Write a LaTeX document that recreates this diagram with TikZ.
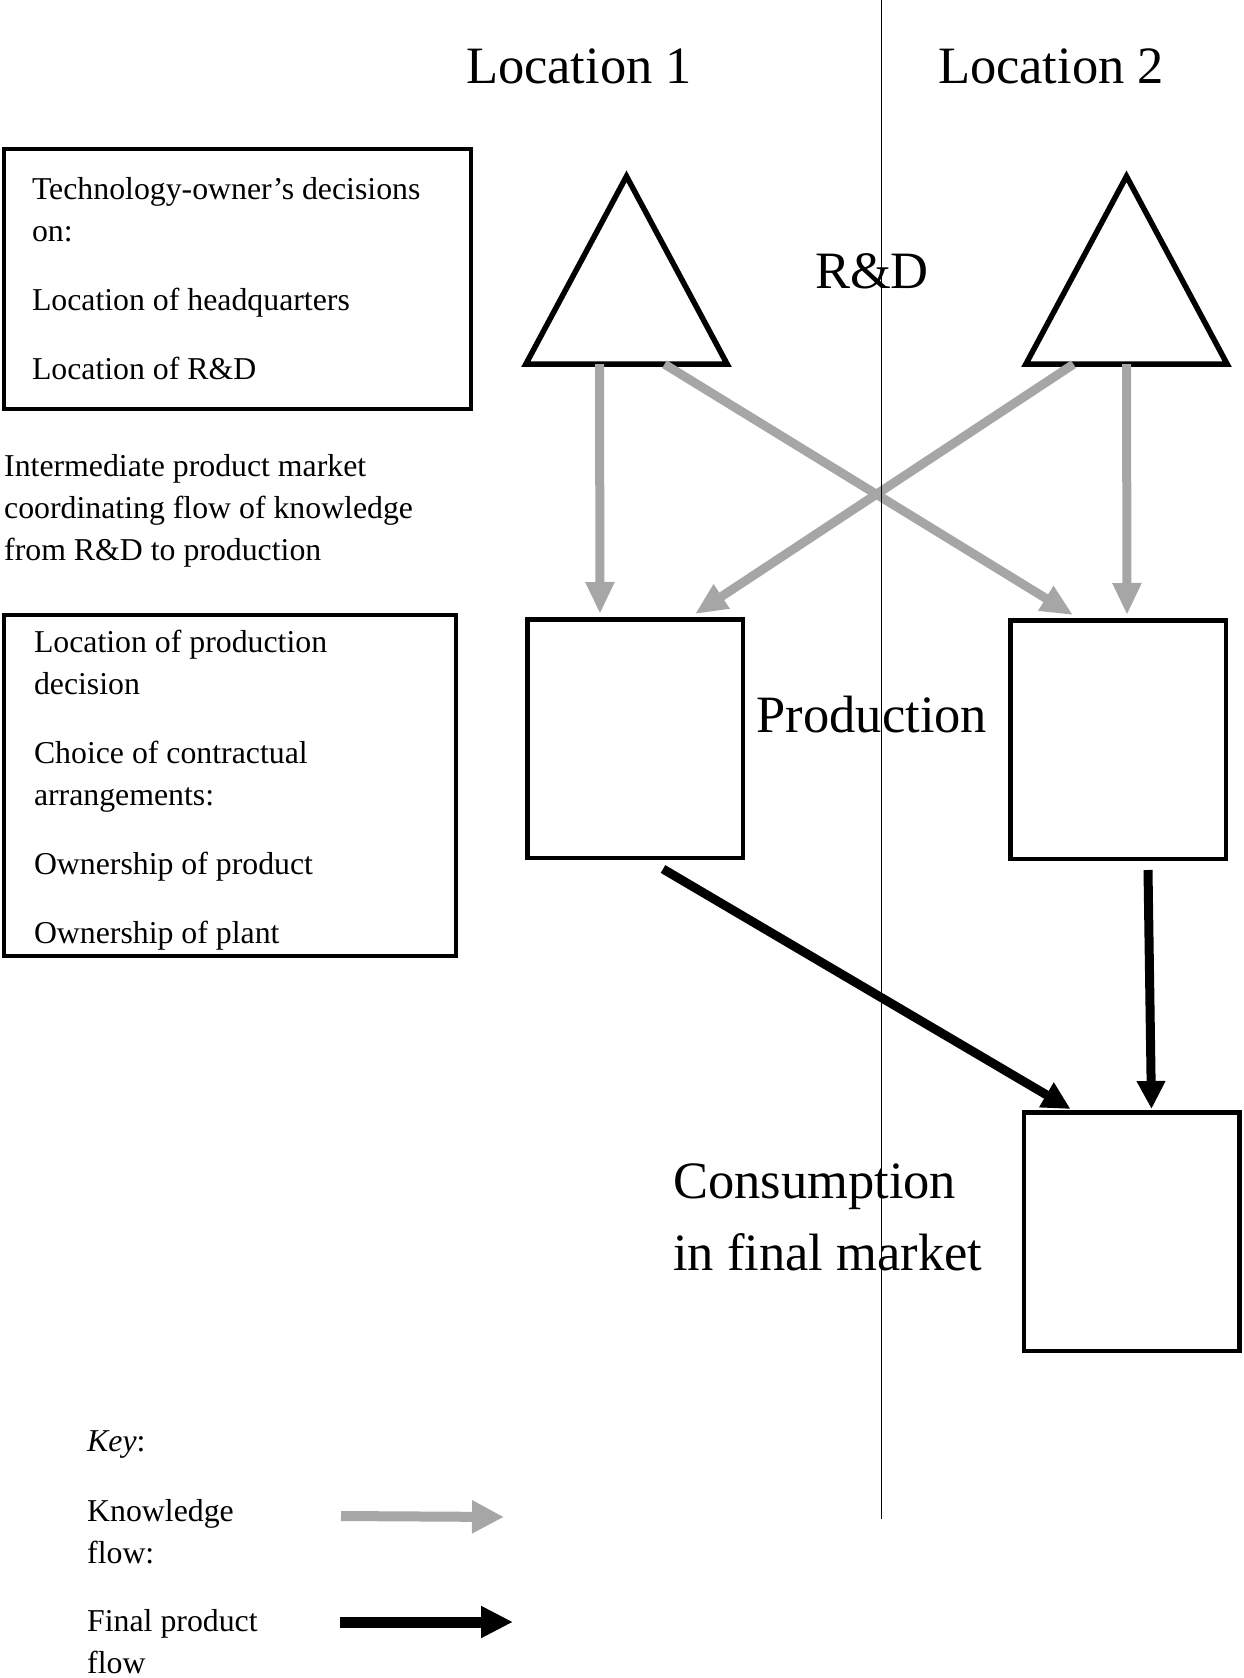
\documentclass[tikz,border=0pt]{standalone}
\usepackage{fontspec}
\setmainfont{Liberation Serif}
\usepackage{tikz}
\usetikzlibrary{
  arrows.meta,
  positioning
}
\definecolor{kgray}{RGB}{166,166,166}

\begin{document}
\begin{tikzpicture}[
  x=1pt, y=-1pt,
  bigtext/.style={font=\fontsize{52.5}{72}\selectfont, align=left, inner sep=0pt},
  smalltext/.style={font=\fontsize{31.8}{42}\selectfont, align=left, inner sep=0pt},
  decbox/.style={draw, line width=4pt, font=\fontsize{31.8}{42}\selectfont,
                 align=flush left, inner xsep=28pt, inner ysep=0pt},
  sitebox/.style={draw, line width=4.5pt, minimum width=215.5pt,
                  minimum height=238.5pt, inner sep=0pt},
  tribase/.style={minimum width=201pt, minimum height=187.5pt, inner sep=0pt},
  triangle/.style={line width=5.5pt, line join=miter},
  knowledge/.style={-{Triangle[length=32pt, width=27pt]}, line width=9pt, color=kgray},
  product/.style={-{Triangle[length=28pt, width=27pt]}, line width=9pt, color=black},
  divider/.style={line width=1.5pt}
]
  \useasboundingbox (0,0) rectangle (1243,1678);

  % column headings
  \node[bigtext] (loc1) at (579,66) {Location 1};
  \node[bigtext] (loc2) at (1051,66) {Location 2};

  % decision boxes on the left
  \node[decbox, text width=411pt, minimum height=260pt] (own) at (237.5,279)
    {Technology-owner’s decisions\\on:\\[27pt]
     Location of headquarters\\[27pt]
     Location of R\&D};
  \node[smalltext, anchor=west] (market) at (4,510.5)
    {Intermediate product market\\coordinating flow of knowledge\\from R\&D to production};
  \node[decbox, inner xsep=30pt, text width=392pt, minimum height=341pt] (prod) at (230,785.5)
    {\rule{0pt}{32pt}Location of production\\decision\\[27pt]
     Choice of contractual\\arrangements:\\[27pt]
     Ownership of product\\[27pt]
     Ownership of plant};

  % R&D triangles
  \node[tribase] (R1) at (626.5,270.25) {};
  \node[tribase] (R2) at (1126.5,270.25) {};
  \draw[triangle] (R1.south west) -- (R1.north) -- (R1.south east) -- cycle;
  \draw[triangle] (R2.south west) -- (R2.north) -- (R2.south east) -- cycle;
  \node[bigtext] (rd) at (872,271) {R\&D};

  % production and consumption boxes
  \node[sitebox] (P1) at (635,738.5) {};
  \node[sitebox] (P2) at (1118,739.5) {};
  \node[sitebox] (C)  at (1131.5,1231.5) {};
  \node[bigtext] (prodlbl) at (872,715) {Production};
  \node[bigtext, anchor=west] (cons) at (673,1217) {Consumption\\in final market};

  % knowledge flows
  \foreach \src/\sx/\dst/\dx in {R1/-27/P1/-35, R1/38/P2/-45, R2/-53/P1/60, R2/0/P2/9}
    \draw[knowledge] ([xshift=\sx pt]\src.south) -- ([xshift=\dx pt, yshift=3pt]\dst.north);

  % final product flows
  \draw[product] ([xshift=28pt, yshift=-9pt]P1.south) -- ([xshift=-61pt, yshift=1pt]C.north);
  \draw[product] ([xshift=30pt, yshift=-9pt]P2.south) -- ([xshift=20pt, yshift=1pt]C.north);

  % key
  \node[smalltext, anchor=west] (key) at (87,1445) {\textit{Key}:};
  \node[smalltext, anchor=west] (kkn) at (87,1531.5) {Knowledge\\flow:};
  \node[smalltext, anchor=west] (kfp) at (87,1641.5) {Final product\\flow};
  \coordinate (kn-a) at (341,1516);
  \coordinate (kn-b) at (504,1517);
  \coordinate (fp-a) at (340,1622);
  \coordinate (fp-b) at (513,1622);
  \draw[knowledge, -{Triangle[length=32pt, width=31pt]}, line width=10pt] (kn-a) -- (kn-b);
  \draw[product, -{Triangle[length=32pt, width=30pt]}, line width=11pt] (fp-a) -- (fp-b);

  % border between the two locations
  \coordinate (div-top) at (881.5,0);
  \coordinate (div-bot) at (881.5,1519);
  \draw[divider] (div-top) -- (div-bot);
\end{tikzpicture}
\end{document}
